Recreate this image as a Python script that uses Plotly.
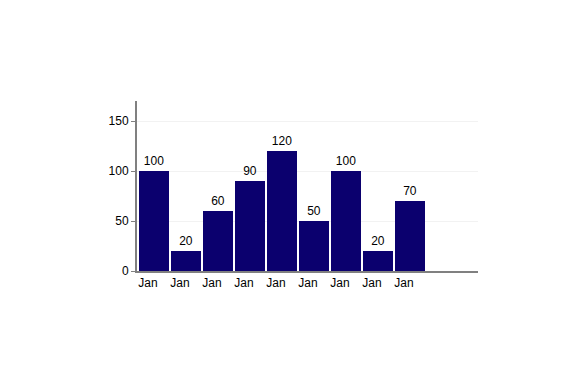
import plotly.graph_objects as go

categories = ["Jan", "Jan", "Jan", "Jan", "Jan", "Jan", "Jan", "Jan", "Jan"]
values = [100, 20, 60, 90, 120, 50, 100, 20, 70]
y_ticks = [0, 50, 100, 150]

x = list(range(len(values)))

fig = go.Figure(go.Bar(
    x=x, y=values,
    marker=dict(color="#0b006e", line=dict(width=0)),
    text=[str(v) for v in values], textposition="outside",
    textfont=dict(family="Liberation Sans, Arial, sans-serif", size=12, color="#000000"),
    cliponaxis=False,
))

fig.update_layout(
    width=563, height=371,
    margin=dict(l=137, r=85, t=101, b=100, pad=0),
    paper_bgcolor="white", plot_bgcolor="white",
    bargap=2/32,
    showlegend=False,
    font=dict(family="Liberation Sans, Arial, sans-serif", size=12, color="#000000"),
    xaxis=dict(
        range=[-0.5 - 1/32, -0.5 - 1/32 + 341/32],
        tickvals=x, ticktext=categories,
        showgrid=False, zeroline=False,
        showline=True, linecolor="#808080", linewidth=2,
        ticks="", ticklen=0,
        ticklabelshift=-6,
        tickfont=dict(size=12, color="#000000"),
    ),
    yaxis=dict(
        range=[0, 170],
        tickvals=y_ticks,
        showgrid=True, gridcolor="#f2f2f2", gridwidth=1,
        zeroline=False,
        showline=True, linecolor="#808080", linewidth=2,
        ticks="outside", ticklen=4, tickcolor="#808080", tickwidth=1,
        tickfont=dict(size=12, color="#000000"),
    ),
)

fig.write_html("out.html")
